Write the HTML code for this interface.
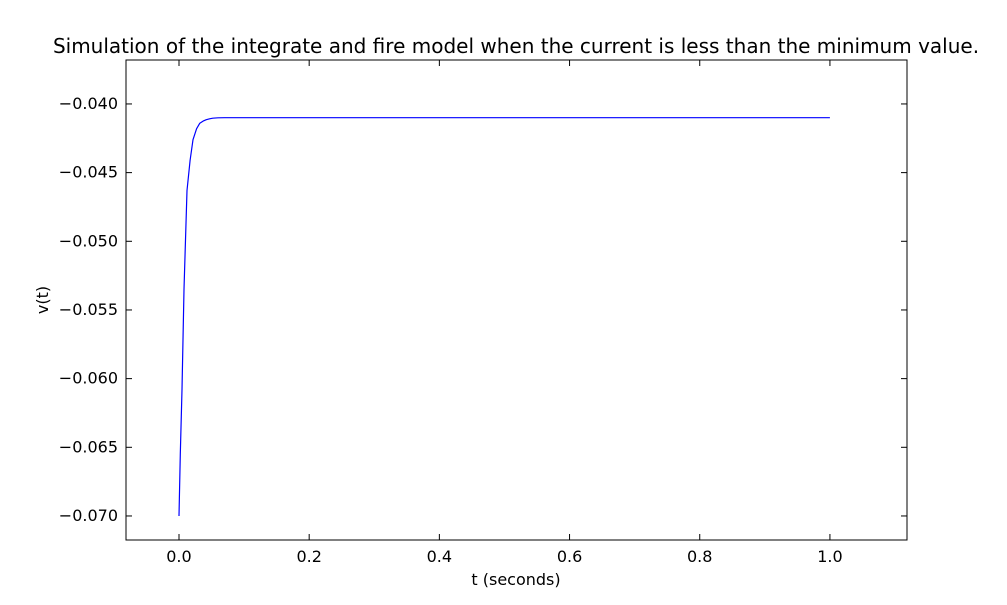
<!DOCTYPE html>
<html><head><meta charset="utf-8"><style>
body{margin:0;background:#fff;font-family:"Liberation Sans","DejaVu Sans",sans-serif;}
svg text{font-family:"DejaVu Sans","Liberation Sans",sans-serif;}
</style></head><body>
<svg id="chart" width="1007" height="600">
<rect x="0" y="0" width="1007" height="600" fill="#fff"/>
<text x="516" y="53" font-size="20" text-anchor="middle">Simulation of the integrate and fire model when the current is less than the minimum value.</text>
<g id="plot"></g>
<rect x="126" y="60" width="781" height="480" fill="none" stroke="#000" stroke-width="1"/>
<text x="516" y="585" font-size="16" text-anchor="middle">t (seconds)</text>
<text transform="translate(48,300) rotate(-90)" font-size="16" text-anchor="middle">v(t)</text>
</svg>
<script>
const tValues=[0,0.002,0.0046,0.0077,0.0123,0.017,0.0215,0.027,0.032,0.037,0.042,0.047,0.052,0.06,0.07,0.1,0.5,1.0];
const vValues=[-0.070,-0.0655,-0.0608,-0.0535,-0.0463,-0.0441,-0.0426,-0.0418,-0.0414,-0.04125,-0.04115,-0.04108,-0.04104,-0.04101,-0.0410,-0.0410,-0.0410,-0.0410];
const xTicks=[0.0,0.2,0.4,0.6,0.8,1.0];
const yTicks=[-0.040,-0.045,-0.050,-0.055,-0.060,-0.065,-0.070];
const L=126,R=907,T=60,B=540;
const xMin=-0.0814,xMax=1.1184,yMin=-0.07175,yMax=-0.0368;
const sx=v=>L+(v-xMin)/(xMax-xMin)*(R-L);
const sy=v=>B-(v-yMin)/(yMax-yMin)*(B-T);
const g=document.getElementById('plot');
const NS='http://www.w3.org/2000/svg';
function mk(tag,attrs){const e=document.createElementNS(NS,tag);for(const k in attrs)e.setAttribute(k,attrs[k]);g.appendChild(e);return e;}
xTicks.forEach(v=>{const x=sx(v);
 let t=mk('line',{x1:x,x2:x,y1:B,y2:B-6,stroke:'#000'});
 
 
 let t2=mk('line',{x1:x,x2:x,y1:T,y2:T+6,stroke:'#000'});
 
 
 let l=mk('text',{x:x,y:B+22,'font-size':16,'text-anchor':'middle'});l.textContent=v.toFixed(1);
 
 
});
yTicks.forEach(v=>{const y=sy(v);
 let t=mk('line',{x1:L,x2:L+6,y1:y,y2:y,stroke:'#000'});
 
 
 let t2=mk('line',{x1:R,x2:R-6,y1:y,y2:y,stroke:'#000'});
 
 
 let l=mk('text',{x:L-8,y:y+5,'font-size':16,'text-anchor':'end'});l.textContent='\u2212'+Math.abs(v).toFixed(3);
 
 
});
const pts=tValues.map((t,i)=>sx(t).toFixed(1)+','+sy(vValues[i]).toFixed(1)).join(' ');
const line=mk('polyline',{points:pts,fill:'none',stroke:'#0000ff','stroke-width':1.2,'stroke-linejoin':'round'});


</script>
</body></html>
